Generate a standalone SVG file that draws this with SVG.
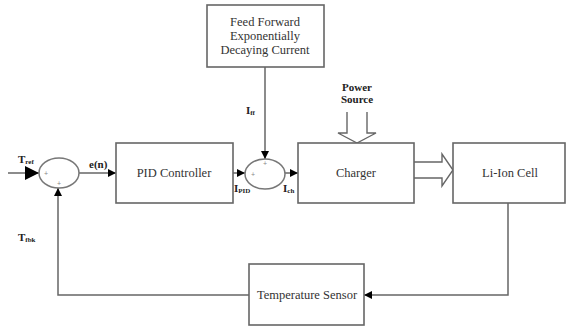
<svg xmlns="http://www.w3.org/2000/svg" width="566" height="326" viewBox="0 0 566 326">
<style>
.box{fill:#fff;stroke:#666;stroke-width:1.6}
.ln{fill:none;stroke:#666;stroke-width:1.5}
.sum{fill:#fff;stroke:#777;stroke-width:1.5}
.t{font-family:"Liberation Serif",serif;font-size:12.5px;fill:#333;text-anchor:middle}
.b{font-family:"Liberation Serif",serif;font-weight:bold;font-size:11px;fill:#222}
.s{font-size:7px}
.p{font-family:"Liberation Sans",sans-serif;font-size:7px;fill:#888;text-anchor:middle}
.hol{fill:#fff;stroke:#666;stroke-width:1.4}
</style>
<defs>
<marker id="a" viewBox="0 0 10 10" refX="10" refY="5" markerWidth="8" markerHeight="8" markerUnits="userSpaceOnUse" orient="auto"><path d="M0,0L10,5L0,10z" fill="#000"/></marker>
<marker id="big" viewBox="0 0 10 10" refX="10" refY="5" markerWidth="16" markerHeight="14" markerUnits="userSpaceOnUse" orient="auto"><path d="M0,0L10,5L0,10z" fill="#000"/></marker>
</defs>
<g id="connectors">
<line class="ln" x1="8" y1="173" x2="39" y2="173" marker-end="url(#big)"/>
<line class="ln" x1="79" y1="173" x2="116" y2="173" marker-end="url(#a)"/>
<line class="ln" x1="233" y1="173" x2="245" y2="173" marker-end="url(#a)"/>
<line class="ln" x1="265" y1="67" x2="265" y2="159" marker-end="url(#a)"/>
<line class="ln" x1="285" y1="173" x2="298" y2="173" marker-end="url(#a)"/>
<polyline class="ln" points="508,203 508,295 364,295" marker-end="url(#a)"/>
<polyline class="ln" points="249,295 58,295 58,188" marker-end="url(#a)"/>
<path class="hol" d="M414,162H442V154L453,170L442,186V178H414"/>
<path class="hol" d="M347,112V133H338L357,143L376,133H367V112"/>
</g>
<g id="sum1">
<ellipse class="sum" cx="59" cy="173" rx="20" ry="15"/>
<text class="p" x="46" y="176">+</text>
<text class="p" x="59" y="186">+</text>
</g>
<g id="sum2">
<ellipse class="sum" cx="265" cy="174" rx="20" ry="15"/>
<text class="p" x="253" y="177">+</text>
<text class="p" x="265" y="166">+</text>
</g>
<g id="feedforward">
<rect class="box" x="207" y="5" width="117" height="62"/>
<text class="t" x="265" y="26">Feed Forward</text>
<text class="t" x="265" y="40">Exponentially</text>
<text class="t" x="265" y="54">Decaying Current</text>
</g>
<g id="pid">
<rect class="box" x="116" y="143" width="117" height="60"/>
<text class="t" x="174" y="177">PID Controller</text>
</g>
<g id="charger">
<rect class="box" x="298" y="143" width="116" height="60"/>
<text class="t" x="356" y="177">Charger</text>
</g>
<g id="liion">
<rect class="box" x="453" y="143" width="112" height="60"/>
<text class="t" x="510" y="177">Li-Ion Cell</text>
</g>
<g id="tempsensor">
<rect class="box" x="249" y="264" width="115" height="61"/>
<text class="t" x="307" y="299">Temperature Sensor</text>
</g>
<g id="labels">
<text class="b" x="18" y="163">T<tspan class="s" dy="1">ref</tspan></text>
<text class="b" x="89" y="168">e(n)</text>
<text class="b" x="246" y="114">I<tspan class="s" dy="1">ff</tspan></text>
<text class="b" x="234" y="192">I<tspan class="s" dy="1">PID</tspan></text>
<text class="b" x="283" y="192">I<tspan class="s" dy="1">ch</tspan></text>
<text class="b" x="18" y="241">T<tspan class="s" dy="1">fbk</tspan></text>
<text class="b" x="357" y="91" text-anchor="middle">Power</text>
<text class="b" x="357" y="103" text-anchor="middle">Source</text>
</g>
</svg>
